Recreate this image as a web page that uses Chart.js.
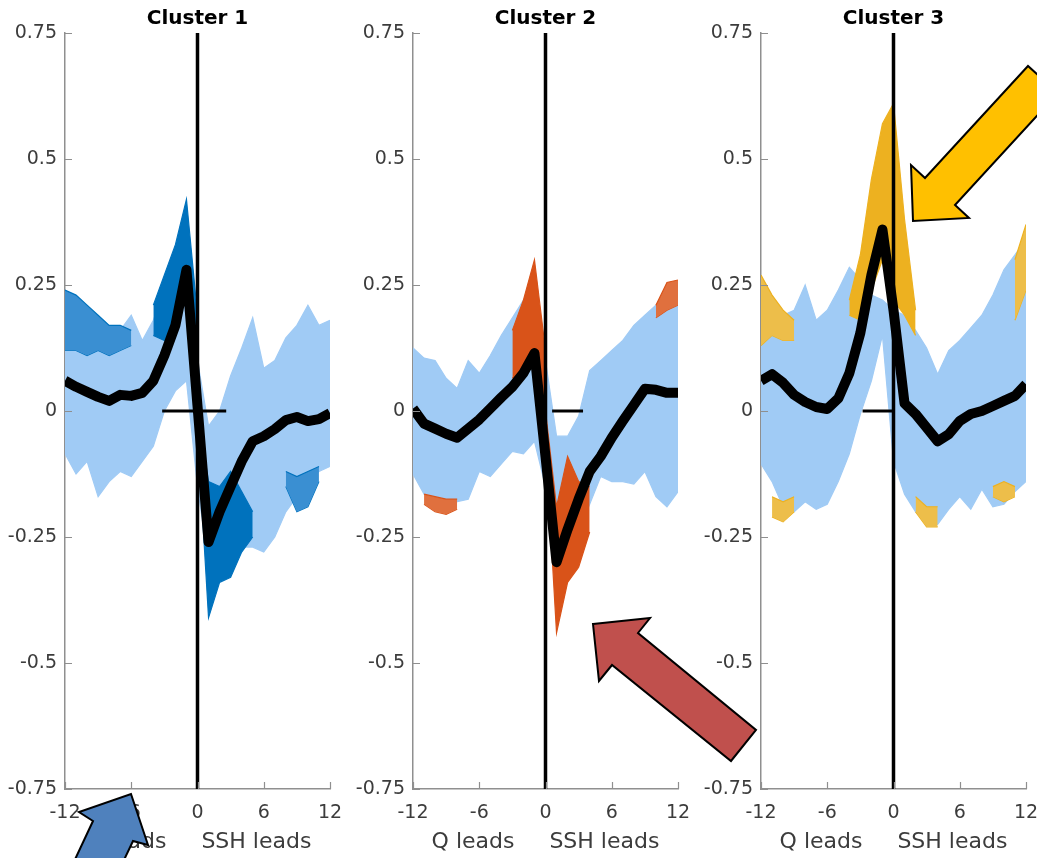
<!DOCTYPE html>
<html>
<head>
<meta charset="utf-8">
<script src="https://cdn.jsdelivr.net/npm/chart.js@4.4.0/dist/chart.umd.min.js"></script>
<style>
  html, body { margin: 0; padding: 0; background: #fff; overflow: hidden; }
  #wrap { position: relative; width: 1037px; height: 858px; overflow: hidden; }
  #wrap canvas { position: absolute; top: 0; }
</style>
</head>
<body>
<div id="wrap">
  <canvas id="c1" width="348" height="858" style="left:0"></canvas>
  <canvas id="c2" width="348" height="858" style="left:348px"></canvas>
  <canvas id="c3" width="348" height="858" style="left:696px"></canvas>
  <canvas id="arrows" width="1037" height="858" style="left:0;pointer-events:none"></canvas>
</div>
<script>
const _ = null;

// axes
const lags = [-12, -11, -10, -9, -8, -7, -6, -5, -4, -3, -2, -1, 0, 1, 2, 3, 4, 5, 6, 7, 8, 9, 10, 11, 12];
const xTicks = [-12, -6, 0, 6, 12];
const yTicks = [-0.75, -0.5, -0.25, 0, 0.25, 0.5, 0.75];
const panelTitles = ['Cluster 1', 'Cluster 2', 'Cluster 3'];
const xAxisTitle = 'Q leads     SSH leads';

// Cluster 1: mean, envelope of all series, highlighted members (dense and sparse parts)
const c1Mean  = [0.06, 0.048, 0.038, 0.028, 0.02, 0.032, 0.03, 0.036, 0.06, 0.11, 0.17, 0.28, 0.01, -0.26, -0.2, -0.15, -0.1, -0.06, -0.05, -0.036, -0.018, -0.012, -0.02, -0.016, -0.004];
const c1Upper = [0.2, 0.19, 0.17, 0.16, 0.15, 0.16, 0.19, 0.14, 0.18, 0.24, 0.31, 0.34, 0.1, -0.03, 0.0, 0.07, 0.125, 0.185, 0.085, 0.1, 0.145, 0.17, 0.21, 0.17, 0.18];
const c1Lower = [-0.085, -0.125, -0.1, -0.17, -0.14, -0.12, -0.13, -0.1, -0.07, 0.0, 0.04, 0.06, -0.15, -0.3, -0.24, -0.25, -0.27, -0.27, -0.28, -0.25, -0.2, -0.17, -0.14, -0.12, -0.11];
const c1PeakUp   = [_, _, _, _, _, _, _, _, 0.21, 0.27, 0.33, 0.42, 0.19, _, _, _, _, _, _, _, _, _, _, _, _];
const c1PeakLo   = [_, _, _, _, _, _, _, _, 0.15, 0.14, 0.19, 0.24, 0.06, _, _, _, _, _, _, _, _, _, _, _, _];
const c1TroughUp = [_, _, _, _, _, _, _, _, _, _, _, _, 0.0, -0.14, -0.15, -0.12, -0.16, -0.2, _, _, _, _, _, _, _];
const c1TroughLo = [_, _, _, _, _, _, _, _, _, _, _, _, -0.04, -0.41, -0.34, -0.33, -0.28, -0.25, _, _, _, _, _, _, _];
const c1SparseUp = [0.24, 0.23, 0.21, 0.19, 0.17, 0.17, 0.16, _, _, _, _, _, _, _, _, _, _, _, _, _, -0.12, -0.13, -0.12, -0.11, _];
const c1SparseLo = [0.12, 0.12, 0.11, 0.12, 0.11, 0.12, 0.13, _, _, _, _, _, _, _, _, _, _, _, _, _, -0.15, -0.2, -0.19, -0.14, _];
const c1ZeroSpan = [-3.2, 2.6];

// Cluster 2
const c2Mean  = [0.005, -0.025, -0.035, -0.045, -0.053, -0.035, -0.017, 0.005, 0.027, 0.048, 0.075, 0.115, -0.09, -0.3, -0.235, -0.175, -0.12, -0.09, -0.053, -0.02, 0.012, 0.044, 0.042, 0.036, 0.036];
const c2Upper = [0.125, 0.105, 0.1, 0.065, 0.045, 0.1, 0.075, 0.11, 0.15, 0.185, 0.22, 0.22, 0.1, -0.05, -0.05, -0.01, 0.08, 0.1, 0.12, 0.14, 0.17, 0.19, 0.21, 0.23, 0.22];
const c2Lower = [-0.125, -0.165, -0.19, -0.19, -0.18, -0.175, -0.12, -0.13, -0.105, -0.08, -0.085, -0.06, -0.15, -0.27, -0.26, -0.24, -0.185, -0.13, -0.14, -0.14, -0.145, -0.12, -0.17, -0.19, -0.16];
const c2PeakUp   = [_, _, _, _, _, _, _, _, _, 0.16, 0.22, 0.3, 0.12, _, _, _, _, _, _, _, _, _, _, _, _];
const c2PeakLo   = [_, _, _, _, _, _, _, _, _, 0.065, 0.085, 0.11, -0.02, _, _, _, _, _, _, _, _, _, _, _, _];
const c2TroughUp = [_, _, _, _, _, _, _, _, _, _, _, _, 0.0, -0.19, -0.09, -0.14, -0.15, _, _, _, _, _, _, _, _];
const c2TroughLo = [_, _, _, _, _, _, _, _, _, _, _, _, -0.06, -0.44, -0.34, -0.31, -0.24, _, _, _, _, _, _, _, _];
const c2SparseUp = [_, -0.165, -0.17, -0.175, -0.175, _, _, _, _, _, _, _, _, _, _, _, _, _, _, _, _, _, 0.21, 0.255, 0.26];
const c2SparseLo = [_, -0.185, -0.2, -0.205, -0.195, _, _, _, _, _, _, _, _, _, _, _, _, _, _, _, _, _, 0.185, 0.2, 0.21];
const c2ZeroSpan = [0.6, 3.4];

// Cluster 3
const c3Mean  = [0.06, 0.073, 0.056, 0.032, 0.018, 0.008, 0.004, 0.025, 0.075, 0.155, 0.27, 0.36, 0.2, 0.015, -0.006, -0.033, -0.06, -0.046, -0.02, -0.006, 0.0, 0.01, 0.02, 0.03, 0.053];
const c3Upper = [0.26, 0.22, 0.19, 0.2, 0.25, 0.18, 0.2, 0.24, 0.285, 0.26, 0.23, 0.22, 0.2, 0.19, 0.16, 0.125, 0.073, 0.12, 0.14, 0.165, 0.19, 0.23, 0.28, 0.31, 0.34];
const c3Lower = [-0.105, -0.14, -0.19, -0.2, -0.18, -0.195, -0.185, -0.14, -0.085, -0.006, 0.06, 0.15, -0.1, -0.165, -0.2, -0.22, -0.225, -0.195, -0.17, -0.195, -0.155, -0.19, -0.185, -0.16, -0.14];
const c3PeakUp = [_, _, _, _, _, _, _, _, 0.22, 0.31, 0.46, 0.57, 0.61, 0.38, 0.2, _, _, _, _, _, _, _, _, _, _];
const c3PeakLo = [_, _, _, _, _, _, _, _, 0.19, 0.18, 0.24, 0.3, 0.22, 0.19, 0.15, _, _, _, _, _, _, _, _, _, _];
const c3TopUp  = [0.27, 0.23, 0.2, 0.18, _, _, _, _, _, _, _, _, _, _, _, _, _, _, _, _, _, _, _, 0.3, 0.37];
const c3TopLo  = [0.13, 0.15, 0.14, 0.14, _, _, _, _, _, _, _, _, _, _, _, _, _, _, _, _, _, _, _, 0.18, 0.24];
const c3BotUp  = [_, -0.17, -0.18, -0.17, _, _, _, _, _, _, _, _, _, _, -0.17, -0.19, -0.19, _, _, _, _, -0.15, -0.14, -0.15, _];
const c3BotLo  = [_, -0.21, -0.22, -0.2, _, _, _, _, _, _, _, _, _, _, -0.2, -0.23, -0.23, _, _, _, _, -0.17, -0.18, -0.17, _];
const c3ZeroSpan = [-2.8, 0];

const LIGHT = '#a0cbf5';
const AXIS_GREY = '#8f8f8f';
const TEXT_GREY = '#3c3c3c';
const FONT = '"DejaVu Sans", sans-serif';

function pts(vals) {
  return lags.map((x, i) => ({ x: x, y: vals[i] }));
}

function band(up, lo, line, fillColor, order) {
  return [
    { data: pts(up), borderColor: line, backgroundColor: fillColor, borderWidth: 1.2, fill: '+1', order: order },
    { data: pts(lo), borderColor: line, backgroundColor: fillColor, borderWidth: 1.2, fill: false, order: order }
  ];
}

// inside tick marks + bold panel title, matlab style
const matlabAxes = {
  id: 'matlabAxes',
  afterDraw(chart, args, opts) {
    const { ctx, chartArea: a, scales: { x, y } } = chart;
    ctx.save();
    ctx.strokeStyle = AXIS_GREY;
    ctx.lineWidth = 1.2;
    ctx.beginPath();
    y.ticks.forEach(t => {
      const py = Math.round(y.getPixelForValue(t.value)) + 0.5;
      ctx.moveTo(a.left, py);
      ctx.lineTo(a.left + 7, py);
    });
    x.ticks.forEach(t => {
      const px = Math.round(x.getPixelForValue(t.value)) + 0.5;
      ctx.moveTo(px, a.bottom);
      ctx.lineTo(px, a.bottom - 7);
    });
    ctx.stroke();
    ctx.fillStyle = '#000';
    ctx.font = 'bold 20px ' + FONT;
    ctx.textAlign = 'center';
    ctx.textBaseline = 'middle';
    ctx.fillText(opts.text, (a.left + a.right) / 2, a.top - 14);
    ctx.restore();
  }
};

const panels = [
  { id: 'c1', title: panelTitles[0], mean: c1Mean, up: c1Upper, lo: c1Lower, color: '#0072bd', soft: '#3a8fd2',
    dense: [[c1PeakUp, c1PeakLo], [c1TroughUp, c1TroughLo]], sparse: [[c1SparseUp, c1SparseLo]], zero: c1ZeroSpan },
  { id: 'c2', title: panelTitles[1], mean: c2Mean, up: c2Upper, lo: c2Lower, color: '#d95319', soft: '#e0703e',
    dense: [[c2PeakUp, c2PeakLo], [c2TroughUp, c2TroughLo]], sparse: [[c2SparseUp, c2SparseLo]], zero: c2ZeroSpan },
  { id: 'c3', title: panelTitles[2], mean: c3Mean, up: c3Upper, lo: c3Lower, color: '#edb120', soft: '#edbe4a',
    dense: [[c3PeakUp, c3PeakLo]], sparse: [[c3TopUp, c3TopLo], [c3BotUp, c3BotLo]], zero: c3ZeroSpan }
];

panels.forEach(p => {
  const datasets = [];
  // mean curve on top
  datasets.push({ data: pts(p.mean), borderColor: '#000', borderWidth: 10, borderJoinStyle: 'round', fill: false, order: 1 });
  // lag 0 vertical line and zero segment
  datasets.push({ data: [{ x: 0, y: yTicks[0] }, { x: 0, y: yTicks[yTicks.length - 1] }], borderColor: '#000', borderWidth: 3.5, fill: false, order: 4 });
  datasets.push({ data: p.zero.map(x => ({ x: x, y: 0 })), borderColor: '#000', borderWidth: 3, fill: false, order: 4 });
  // cluster members highlighted
  p.dense.forEach(h => datasets.push(...band(h[0], h[1], p.color, p.color, 5)));
  p.sparse.forEach(h => datasets.push(...band(h[0], h[1], p.color, p.soft, 6)));
  // all other series
  datasets.push(...band(p.up, p.lo, LIGHT, LIGHT, 10));

  new Chart(document.getElementById(p.id), {
    type: 'line',
    data: { datasets: datasets },
    options: {
      responsive: false,
      animation: false,
      layout: { padding: { top: 33, right: 18, left: 0, bottom: 0 } },
      elements: {
        point: { radius: 0 },
        line: { tension: 0, borderCapStyle: 'butt' }
      },
      scales: {
        x: {
          type: 'linear',
          min: -12,
          max: 12,
          afterBuildTicks: s => { s.ticks = xTicks.map(v => ({ value: v })); },
          afterFit: s => { s.height = 69; s.paddingLeft = 0; s.paddingRight = 0; },
          grid: { display: true, drawOnChartArea: false, drawTicks: false },
          border: { display: true, color: AXIS_GREY, width: 1.5 },
          ticks: {
            padding: 13,
            color: TEXT_GREY,
            font: { family: FONT, size: 19 },
            maxRotation: 0,
            autoSkip: false,
            callback: v => String(v)
          },
          title: {
            display: true,
            text: xAxisTitle,
            color: TEXT_GREY,
            font: { family: FONT, size: 22 },
            padding: { top: 0, bottom: 3 }
          }
        },
        y: {
          type: 'linear',
          min: -0.75,
          max: 0.75,
          afterBuildTicks: s => { s.ticks = yTicks.map(v => ({ value: v })); },
          afterFit: s => { s.width = 65; },
          grid: { display: true, drawOnChartArea: false, drawTicks: false },
          border: { display: true, color: AXIS_GREY, width: 1.5 },
          ticks: {
            padding: 8,
            color: TEXT_GREY,
            font: { family: FONT, size: 19 },
            autoSkip: false,
            callback: v => String(v)
          }
        }
      },
      plugins: {
        legend: { display: false },
        tooltip: { enabled: false },
        matlabAxes: { text: p.title }
      }
    },
    plugins: [matlabAxes]
  });
});

// block arrows pasted over the figure
const arrowShapes = [
  { fill: '#4f81bd', pts: [[131, 794], [148, 845], [133, 841], [105, 900], [56, 900], [93, 821], [79, 812]] },
  { fill: '#c0504d', pts: [[593, 624], [650, 618], [638, 633], [756, 730], [731, 761], [612, 665], [599, 681]] },
  { fill: '#ffc000', pts: [[913, 221], [911, 165], [925, 178], [1028, 66], [1058, 93], [955, 205], [969, 218]] }
];
const actx = document.getElementById('arrows').getContext('2d');
arrowShapes.forEach(a => {
  actx.beginPath();
  a.pts.forEach((pt, i) => i ? actx.lineTo(pt[0], pt[1]) : actx.moveTo(pt[0], pt[1]));
  actx.closePath();
  actx.fillStyle = a.fill;
  actx.fill();
  actx.lineWidth = 2;
  actx.lineJoin = 'miter';
  actx.strokeStyle = '#000';
  actx.stroke();
});
</script>
</body>
</html>
